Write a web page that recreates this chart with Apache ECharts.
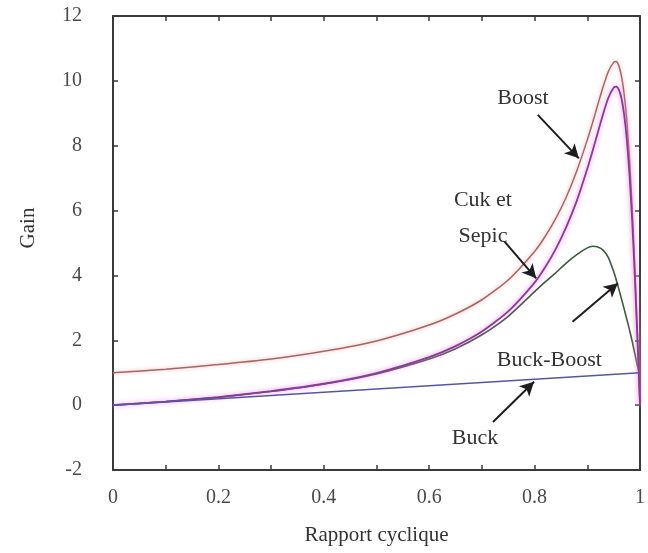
<!DOCTYPE html>
<html lang="fr">
<head>
    <meta charset="UTF-8">
    <title>Gain des convertisseurs</title>
    <style>
        html, body { margin: 0; padding: 0; background: #fff; }
        #chart { width: 648px; height: 553px; }
    </style>
</head>
<body>
    <div id="chart"></div>
</body>
<script src="https://cdn.jsdelivr.net/npm/echarts@6/dist/echarts.min.js"></script>
<script type="text/javascript">
    // rapport cyclique D
    const duty = [0, 0.1, 0.2, 0.3, 0.4, 0.5, 0.6, 0.65, 0.7, 0.75, 0.8, 0.82, 0.84, 0.86, 0.88, 0.9, 0.91, 0.92, 0.93, 0.94, 0.95, 0.955, 0.96, 0.965, 0.97, 0.975, 0.98, 0.985, 0.99, 0.995, 1];
    // gains
    const boostGain = [1.0, 1.11, 1.25, 1.42, 1.66, 1.98, 2.47, 2.81, 3.25, 3.86, 4.74, 5.2, 5.75, 6.41, 7.22, 8.18, 8.71, 9.27, 9.82, 10.29, 10.57, 10.6, 10.46, 10.13, 9.58, 8.76, 7.6, 6.11, 4.29, 2.22, 0];
    const cukGain = [0, 0.11, 0.25, 0.43, 0.66, 0.99, 1.48, 1.82, 2.27, 2.89, 3.78, 4.25, 4.81, 5.49, 6.3, 7.29, 7.84, 8.41, 8.98, 9.48, 9.79, 9.82, 9.72, 9.45, 8.95, 8.19, 7.13, 5.74, 4.04, 2.09, 0];
    const buckBoostGain = [0, 0.11, 0.24, 0.42, 0.65, 0.96, 1.42, 1.74, 2.17, 2.74, 3.5, 3.8, 4.08, 4.38, 4.64, 4.85, 4.9, 4.88, 4.78, 4.55, 4.12, 3.86, 3.57, 3.27, 2.96, 2.65, 2.33, 1.98, 1.6, 1.22, 0.95];
    const buckDuty = [0, 0.5, 1];
    const buckGain = [0, 0.5, 1];

    // textes et flèches (coordonnées en unités du graphique)
    const labels = [
        { name: 'Boost', coord: [0.778, 9.47] },
        { name: 'Cuk et\nSepic', coord: [0.702, 5.77] },
        { name: 'Buck-Boost', coord: [0.828, 1.39] },
        { name: 'Buck', coord: [0.687, -1.03] }
    ];
    const arrows = [
        [[0.806, 8.95], [0.884, 7.61]],
        [[0.743, 5.04], [0.803, 3.91]],
        [[0.872, 2.57], [0.958, 3.76]],
        [[0.721, -0.52], [0.799, 0.72]]
    ];

    const pairs = (xs, ys) => xs.map((x, i) => [x, ys[i]]);
    const font = 'Liberation Serif';
    const textColor = '#333';
    const frame = '#3a3a3a';

    // cadre : axes haut et droite sans graduations texte
    const frameLine = { show: true, onZero: false, lineStyle: { color: frame, width: 2 } };
    const frameTick = { show: true, inside: true, length: 5, lineStyle: { color: frame, width: 1.5 } };

    let chart = echarts.init(document.getElementById('chart'));
    let option = {
        backgroundColor: '#fff',
        animation: false,
        grid: { left: 113, top: 16, right: 3, bottom: 83 },
        xAxis: [{
            type: 'value',
            min: 0,
            max: 1,
            interval: 0.1,
            name: 'Rapport cyclique',
            nameLocation: 'middle',
            nameGap: 55,
            nameTextStyle: { fontFamily: font, fontSize: 21, color: textColor },
            axisLine: frameLine,
            axisTick: frameTick,
            axisLabel: {
                margin: 18,
                fontFamily: font,
                fontSize: 20,
                color: '#4a4a4a',
                formatter: v => {
                    let k = Math.round(v * 10);
                    return k % 2 === 0 ? String(k / 10) : '';
                }
            },
            splitLine: { show: false }
        }, {
            type: 'value',
            position: 'top',
            min: 0,
            max: 1,
            interval: 0.1,
            axisLine: frameLine,
            axisTick: frameTick,
            axisLabel: { show: false },
            splitLine: { show: false }
        }],
        yAxis: [{
            type: 'value',
            min: -2,
            max: 12,
            interval: 2,
            name: 'Gain',
            nameLocation: 'middle',
            nameGap: 74,
            nameTextStyle: { fontFamily: font, fontSize: 21, color: textColor, padding: [0, 0, 0, 30] },
            axisLine: frameLine,
            axisTick: frameTick,
            axisLabel: { margin: 31, fontFamily: font, fontSize: 20, color: '#4a4a4a' },
            splitLine: { show: false }
        }, {
            type: 'value',
            position: 'right',
            min: -2,
            max: 12,
            interval: 2,
            axisLine: frameLine,
            axisTick: frameTick,
            axisLabel: { show: false },
            splitLine: { show: false }
        }],
        series: [{
            name: 'Buck-Boost',
            type: 'line',
            data: pairs(duty, buckBoostGain),
            showSymbol: false,
            smooth: 0.2,
            lineStyle: { color: '#3f5a3f', width: 1.6 }
        }, {
            name: 'Boost',
            type: 'line',
            data: pairs(duty, boostGain),
            showSymbol: false,
            smooth: 0.2,
            lineStyle: { color: '#a86464', width: 1.5, shadowColor: '#f2b0b0', shadowBlur: 4 }
        }, {
            name: 'Cuk et Sepic',
            type: 'line',
            data: pairs(duty, cukGain),
            showSymbol: false,
            smooth: 0.2,
            lineStyle: { color: '#8a3a9a', width: 1.8, shadowColor: '#e87ee8', shadowBlur: 5 }
        }, {
            name: 'Buck',
            type: 'line',
            data: pairs(buckDuty, buckGain),
            showSymbol: false,
            lineStyle: { color: '#5656a0', width: 1.5 },
            markLine: {
                silent: true,
                symbol: ['none', 'arrow'],
                symbolSize: [11, 14],
                label: { show: false },
                lineStyle: { color: '#1e1e1e', width: 2, type: 'solid' },
                data: arrows.map(a => [{ coord: a[0] }, { coord: a[1] }])
            },
            markPoint: {
                silent: true,
                symbol: 'circle',
                symbolSize: 1,
                itemStyle: { color: 'rgba(0,0,0,0)' },
                label: {
                    show: true,
                    position: 'inside',
                    formatter: p => p.name,
                    fontFamily: font,
                    fontSize: 22,
                    lineHeight: 36,
                    color: textColor
                },
                data: labels.map(l => ({ name: l.name, coord: l.coord }))
            }
        }]
    };
    chart.setOption(option);
</script>
</html>
